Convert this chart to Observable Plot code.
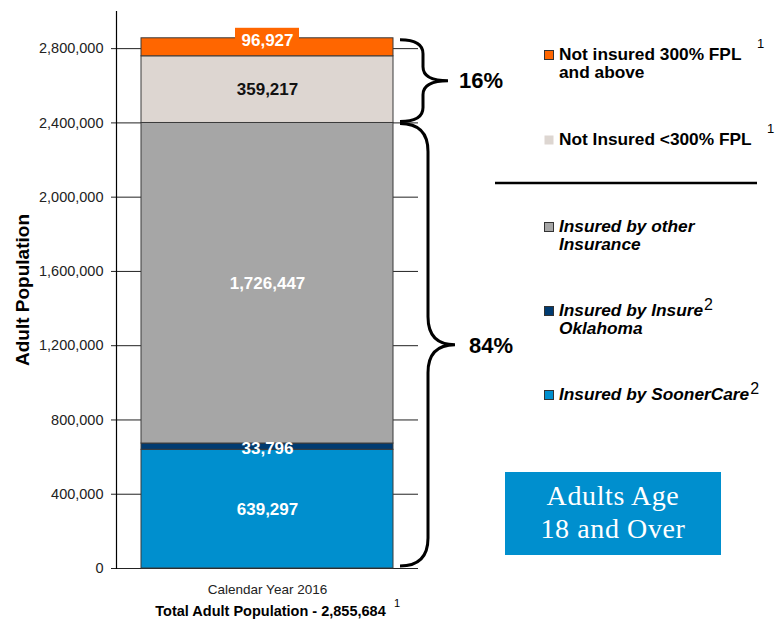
<!DOCTYPE html>
<html>
<head>
<meta charset="utf-8">
<script src="https://cdn.jsdelivr.net/npm/d3@7"></script>
<script src="https://cdn.jsdelivr.net/npm/@observablehq/plot@0.6"></script>
<style>
  html, body { margin: 0; padding: 0; background: #fff; }
  svg { display: block; }
</style>
</head>
<body>
<script>
// ---- data ----
const xCategory = "Calendar Year 2016";
const categories = [
  "Insured by SoonerCare",
  "Insured by Insure Oklahoma",
  "Insured by other Insurance",
  "Not Insured <300% FPL",
  "Not insured 300% FPL and above"
];
const values = [639297, 33796, 1726447, 359217, 96927];
const colors = ["#008FCE", "#003B71", "#A6A6A6", "#DDD6D1", "#FF6600"];
const labelColors = ["#fff", "#fff", "#fff", "#111", "#fff"];
const yTicks = [0, 400000, 800000, 1200000, 1600000, 2000000, 2400000, 2800000];
const totalLabel = "Total Adult Population - 2,855,684";
const yLabel = "Adult Population";
const pctUninsured = "16%";
const pctInsured = "84%";
const boxLines = ["Adults Age", "18 and Over"];
const legendEntries = [
  {cat: 4, lines: ["Not insured 300% FPL", "and above"], sup: "1", italic: false},
  {cat: 3, lines: ["Not Insured <300% FPL"], sup: "1", italic: false},
  {cat: 2, lines: ["Insured by other", "Insurance"], sup: null, italic: true},
  {cat: 1, lines: ["Insured by Insure", "Oklahoma"], sup: "2", italic: true},
  {cat: 0, lines: ["Insured by SoonerCare"], sup: "2", italic: true}
];

const data = categories.map((c, i) => ({year: xCategory, category: c, value: values[i], i}));
const fmt = d3.format(",");
const font = "'Liberation Sans', Arial, sans-serif";

const plot = Plot.plot({
  width: 778,
  height: 619,
  marginLeft: 116,
  marginRight: 360,
  marginTop: 11,
  marginBottom: 51,
  style: {fontFamily: font, background: "#fff", color: "#222", overflow: "visible"},
  x: {type: "band", domain: [xCategory], padding: 0},
  y: {domain: [0, 3000000]},
  color: {domain: categories, range: colors},
  marks: [
    Plot.gridY(yTicks, {stroke: "#222", strokeOpacity: 1, strokeWidth: 1}),
    Plot.axisY(yTicks, {tickSize: 5, tickPadding: 8, fontSize: 14.5, tickFormat: fmt, label: null, stroke: "#222"}),
    Plot.axisX({tickSize: 0, tickPadding: 16, fontSize: 13.5, label: null}),
    Plot.frame({anchor: "left", stroke: "#000", strokeWidth: 1.2}),
    Plot.barY(data, {x: "year", y: "value", fill: "category", stroke: "#3a3a3a", strokeWidth: 1, insetLeft: 25, insetRight: 25}),
    Plot.text(data, Plot.stackY({
      x: "year", y: "value",
      text: d => (d.i === 0 || d.i === 2 || d.i === 3) ? fmt(d.value) : null,
      fill: d => labelColors[d.i],
      fontSize: 17, fontWeight: "bold"
    })),
    Plot.text(data, Plot.stackY({
      x: "year", y: "value",
      text: d => d.i === 1 ? fmt(d.value) : null,
      fill: d => labelColors[d.i],
      fontSize: 17, fontWeight: "bold", dy: 2
    })),
    Plot.text([yLabel], {frameAnchor: "left", textAnchor: "middle", text: d => d, rotate: -90, dx: -94, fontSize: 19, fontWeight: "bold", fill: "#000"}),
    Plot.text([totalLabel], {frameAnchor: "bottom", text: d => d, dy: 47, dx: 3, fontSize: 14.5, fontWeight: "bold", fill: "#000"}),
    Plot.text(data, Plot.stackY({
      x: "year", y: "value",
      text: d => d.i === 4 ? fmt(d.value) : null,
      fill: d => labelColors[d.i],
      fontSize: 17, fontWeight: "bold", dy: -7
    }))
  ]
});
document.body.appendChild(plot);

// ---- annotations using the plot's scales ----
const y = plot.scale("y");
const svg = d3.select(plot);
const NS = "http://www.w3.org/2000/svg";
const total = d3.sum(values);
const insured = values[0] + values[1] + values[2];
const yTop = y.apply(total);
const yIns = y.apply(insured);
const y0 = y.apply(0);
const cx = (116 + 418) / 2;

// orange background box behind top label
const lastG = plot.lastChild;
const box = document.createElementNS(NS, "rect");
box.setAttribute("x", cx - 32);
box.setAttribute("y", yTop - 10);
box.setAttribute("width", 64);
box.setAttribute("height", 18);
box.setAttribute("fill", colors[4]);
plot.insertBefore(box, lastG);

const ann = svg.append("g").attr("text-anchor", "start").attr("font-family", font).attr("fill", "#000");

// superscript for total
ann.append("text").attr("x", 394).attr("y", 607).attr("font-size", 11).text("1");

// braces
function brace(x0, ya, yb, xs, xt, r) {
  const ym = (ya + yb) / 2;
  return `M${x0},${ya} Q${xs},${ya} ${xs},${ya + r} L${xs},${ym - r} Q${xs},${ym} ${xt},${ym} ` +
         `Q${xs},${ym} ${xs},${ym + r} L${xs},${yb - r} Q${xs},${yb} ${x0},${yb}`;
}
ann.append("path").attr("d", brace(400, yTop + 2, yIns - 1, 423, 448, 14))
  .attr("fill", "none").attr("stroke", "#000").attr("stroke-width", 3);
ann.append("path").attr("d", brace(400, yIns + 1, y0 - 2, 428, 455, 28))
  .attr("fill", "none").attr("stroke", "#000").attr("stroke-width", 3);
ann.append("text").attr("x", 459).attr("y", (yTop + yIns) / 2 + 8)
  .attr("font-size", 22).attr("font-weight", "bold").text(pctUninsured);
ann.append("text").attr("x", 469).attr("y", (yIns + y0) / 2 + 8)
  .attr("font-size", 22).attr("font-weight", "bold").text(pctInsured);

// legend
const legendTop = [50, 135, 222, 306, 390];
legendEntries.forEach((e, k) => {
  const top = legendTop[k];
  ann.append("rect").attr("x", 544.5).attr("y", top + 0.5).attr("width", 9).attr("height", 9)
    .attr("fill", colors[e.cat]).attr("stroke", e.cat === 3 ? "none" : "#333").attr("stroke-width", 1);
  const t = ann.append("text").attr("font-size", 17.3)
    .attr("font-weight", "bold").attr("font-style", e.italic ? "italic" : "normal");
  e.lines.forEach((ln, j) => {
    t.append("tspan").attr("x", 559).attr("y", top + 10 + j * 18).text(ln);
  });
  if (e.sup) {
    const first = t.node().firstChild;
    const w = first.getComputedTextLength();
    if (e.sup === "1") {
      const sx = k === 0 ? 757 : 767;
      ann.append("text").attr("x", sx).attr("y", top - 2).attr("font-size", 13).text(e.sup);
    } else {
      ann.append("text").attr("x", 559 + w + 1).attr("y", top + 4).attr("font-size", 16).text(e.sup);
    }
  }
});
ann.append("line").attr("x1", 495).attr("x2", 757).attr("y1", 183).attr("y2", 183)
  .attr("stroke", "#000").attr("stroke-width", 2.5);

// blue label box
ann.append("rect").attr("x", 505).attr("y", 472).attr("width", 216).attr("height", 83).attr("fill", "#008FCE");
boxLines.forEach((ln, j) => {
  ann.append("text").attr("x", 613).attr("y", 505 + j * 33).attr("text-anchor", "middle")
    .attr("font-family", "'Liberation Serif', 'Times New Roman', serif").attr("font-size", 28)
    .attr("letter-spacing", 0.6).attr("fill", "#fff").text(ln);
});
</script>
</body>
</html>
